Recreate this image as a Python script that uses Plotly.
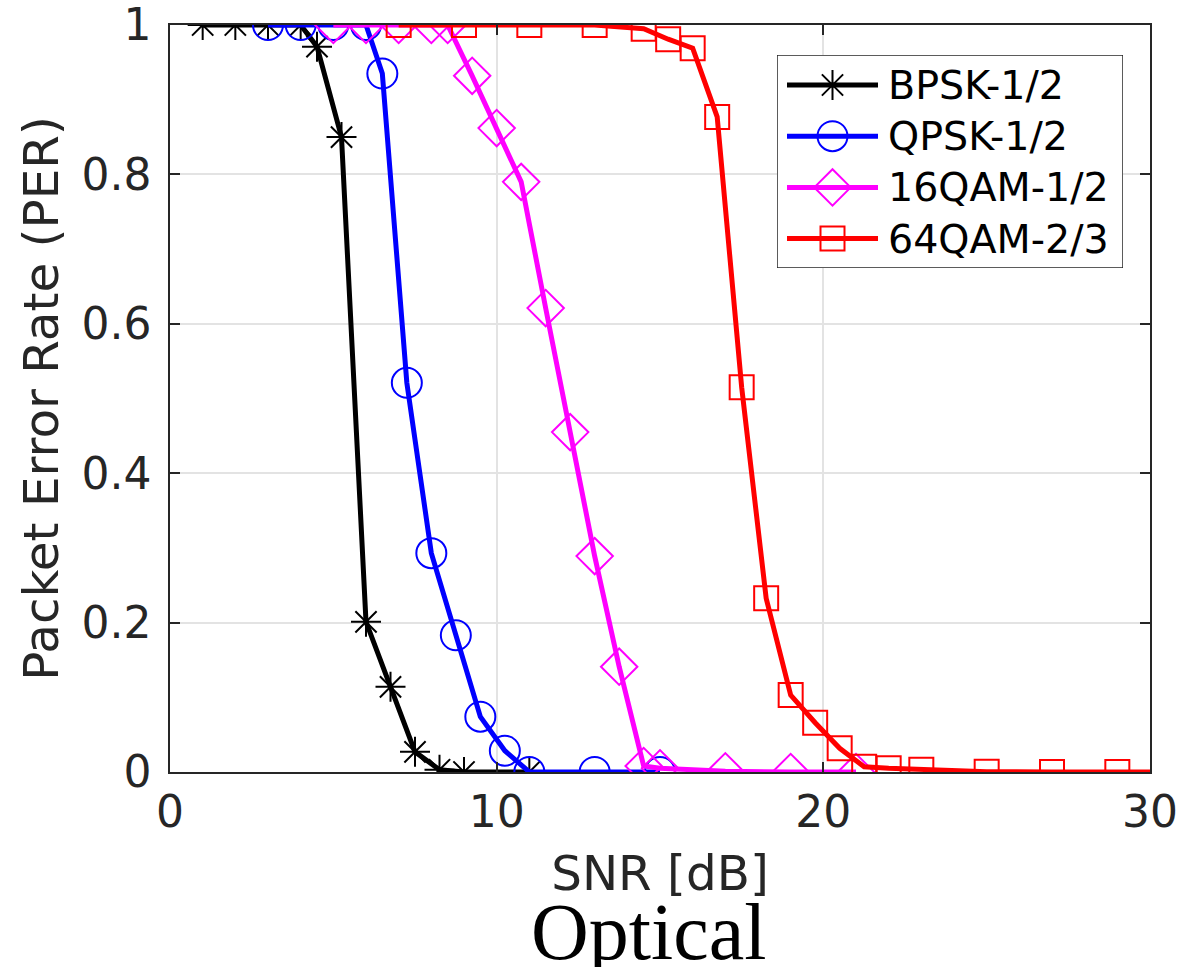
import plotly.graph_objects as go

# ---------------- data ----------------
snr_bpsk = [1, 2, 3, 4, 4.5, 5.25, 6, 6.75, 7.5, 8.25, 9, 11]
per_bpsk = [1, 1, 1, 1, 0.971, 0.85, 0.201, 0.114, 0.027, 0.003, 0, 0]

snr_qpsk = [3, 4, 5, 6, 6.5, 7.25, 8, 8.75, 9.5, 10.25, 11, 13, 15]
per_qpsk = [1, 1, 1, 1, 0.935, 0.521, 0.293, 0.183, 0.074, 0.0285, 0, 0, 0]

snr_16qam = [5, 6, 7, 8, 8.5, 9.25, 10, 10.75, 11.5, 12.25, 13, 13.75, 14.5, 15, 17, 19, 21]
per_16qam = [1, 1, 1, 1, 1, 0.932, 0.862, 0.79, 0.621, 0.455, 0.289, 0.141, 0.008, 0.005, 0.001, 0, 0]

snr_64qam = [7, 9, 11, 13, 14.5, 15.25, 16, 16.75, 17.5, 18.25, 19, 19.75, 20.5, 21.25, 22, 23, 25, 27, 29, 31]
per_64qam = [1, 1, 1, 1, 0.995, 0.981, 0.969, 0.877, 0.515, 0.2325, 0.103, 0.066, 0.0317, 0.007, 0.005, 0.003, 0.0005, 0, 0, 0]

names = ["BPSK-1/2", "QPSK-1/2", "16QAM-1/2", "64QAM-2/3"]
x_ticks = [0, 10, 20, 30]
y_ticks = [0, 0.2, 0.4, 0.6, 0.8, 1]
y_ticktext = ["0", "0.2", "0.4", "0.6", "0.8", "1"]
x_label = "SNR [dB]"
y_label = "Packet Error Rate (PER)"
caption = "Optical"

# ---------------- style ----------------
W, H = 1201, 967
ML, MR, MT, MB = 170, 51, 25, 195
PW, PH = W - ML - MR, H - MT - MB
FONT = "DejaVu Sans"
AX_COL = "#262626"
GRID_COL = "#e3e3e3"
LINE_W = 5

series = [
    (snr_bpsk, per_bpsk, "#000000", "asterisk-open", 25),
    (snr_qpsk, per_qpsk, "#0000ff", "circle-open", 30),
    (snr_16qam, per_16qam, "#ff00ff", "diamond-open", 28),
    (snr_64qam, per_64qam, "#ff0000", "square-open", 24),
]

fig = go.Figure()
for (xs, ys, col, sym, sz), nm in zip(series, names):
    fig.add_trace(go.Scatter(
        x=xs, y=ys, mode="lines+markers", name=nm, showlegend=False,
        line=dict(color=col, width=LINE_W),
        marker=dict(symbol=sym, size=sz, color=col, line=dict(color=col, width=2)),
        xaxis="x", yaxis="y",
    ))

# ---------------- manual legend (own small axis) ----------------
lg_x0, lg_x1 = 777, 1123   # pixel box
lg_y0, lg_y1 = 55, 268
lw, lh = lg_x1 - lg_x0, lg_y1 - lg_y0
row0, row_step = 30, 51.2
line_a, line_b, txt_x = 10, 101, 109

for i, ((xs, ys, col, sym, sz), nm) in enumerate(zip(series, names)):
    ry = row0 + i * row_step
    fig.add_trace(go.Scatter(
        x=[line_a, line_b], y=[ry, ry], mode="lines", showlegend=False,
        line=dict(color=col, width=LINE_W), xaxis="x2", yaxis="y2", hoverinfo="skip"))
    fig.add_trace(go.Scatter(
        x=[(line_a + line_b) / 2], y=[ry], mode="markers", showlegend=False,
        marker=dict(symbol=sym, size=sz, color=col, line=dict(color=col, width=2)),
        xaxis="x2", yaxis="y2", hoverinfo="skip", cliponaxis=False))
    fig.add_annotation(x=txt_x, y=ry, xref="x2", yref="y2", text=nm,
                       showarrow=False, xanchor="left", yanchor="middle",
                       font=dict(family=FONT, size=39.6, color="#000000"))

fig.add_shape(type="rect", xref="x2", yref="y2", x0=0, x1=lw, y0=0, y1=lh,
              line=dict(color=AX_COL, width=1.5), fillcolor="white", layer="below")

fig.add_annotation(x=(648 - ML) / PW, y=(MT + PH - 932) / PH, xref="paper", yref="paper",
                   text=caption, showarrow=False, xanchor="center", yanchor="middle",
                   font=dict(family="Liberation Serif", size=80, color="#000000"))

axis_common = dict(
    showline=True, linecolor=AX_COL, linewidth=1.5, mirror="ticks",
    ticks="inside", ticklen=10, tickwidth=1.5, tickcolor=AX_COL,
    showgrid=True, gridcolor=GRID_COL, gridwidth=1.5, zeroline=False,
    tickfont=dict(family=FONT, size=44, color=AX_COL),
    ticklabeloverflow="allow", automargin=False,
)

fig.update_layout(
    width=W, height=H,
    margin=dict(l=ML, r=MR, t=MT, b=MB, autoexpand=False),
    paper_bgcolor="white", plot_bgcolor="white",
    xaxis=dict(range=[0, 30], tickvals=x_ticks, ticktext=[str(v) for v in x_ticks],
               title=dict(text=x_label, font=dict(family=FONT, size=48.4, color=AX_COL), standoff=21),
               **axis_common),
    yaxis=dict(range=[0, 1], tickvals=y_ticks, ticktext=y_ticktext,
               title=dict(text=y_label, font=dict(family=FONT, size=48.4, color=AX_COL), standoff=8),
               ticklabelstandoff=8,
               **axis_common),
    xaxis2=dict(domain=[(lg_x0 - ML) / PW, (lg_x1 - ML) / PW], range=[0, lw], anchor="y2",
                visible=False, fixedrange=True),
    yaxis2=dict(domain=[(MT + PH - lg_y1) / PH, (MT + PH - lg_y0) / PH], range=[lh, 0], anchor="x2",
                visible=False, fixedrange=True),
    showlegend=False,
)

fig.write_html("out.html", config={"displayModeBar": False},
               post_script="document.body.style.margin='0';document.body.style.overflow='hidden';")
